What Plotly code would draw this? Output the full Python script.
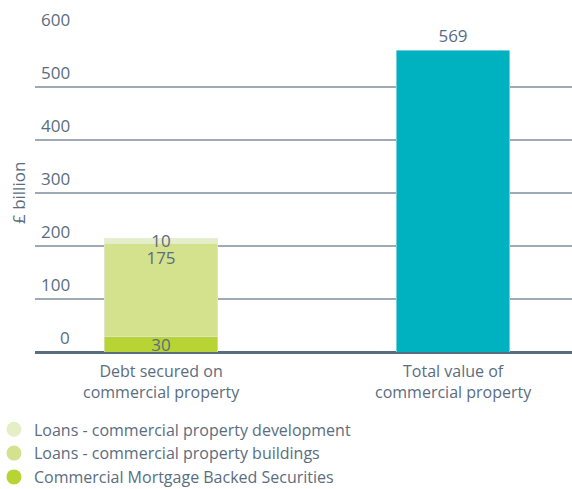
import plotly.graph_objects as go

categories = ["Debt secured on<br>commercial property", "Total value of<br>commercial property"]
cmbs = [30, None]
loans_buildings = [175, None]
loans_development = [10, None]
total_value = [None, 569]
series_names = ["Commercial Mortgage Backed Securities",
                "Loans - commercial property buildings",
                "Loans - commercial property development"]
y_ticks = [0, 100, 200, 300, 400, 500, 600]
y_tick_labels = ["0", "100", "200", "300", "400", "500", "600"]

TEXT = "#5a6d80"
FONT = "Open Sans"
C_CMBS = "#b7d334"
C_BLD = "#d4e18d"
C_DEV = "#e6eec6"
C_TOTAL = "#00b1c0"

x = [0, 1]
fig = go.Figure()

def lbl(vals):
    return [str(v) if v is not None else "" for v in vals]

common = dict(x=x, width=0.39, showlegend=False, textangle=0, cliponaxis=False)
fig.add_bar(y=cmbs, marker_color=C_CMBS, text=lbl(cmbs),
            textposition="inside", insidetextanchor="middle",
            textfont=dict(color=TEXT, size=17, family=FONT), **common)
fig.add_bar(y=loans_buildings, marker_color=C_BLD, text=lbl(loans_buildings),
            textposition="inside", insidetextanchor="end",
            textfont=dict(color=TEXT, size=17, family=FONT), **common)
fig.add_bar(y=loans_development, marker_color=C_DEV, text=lbl(loans_development),
            textposition="inside", insidetextanchor="middle",
            textfont=dict(color=TEXT, size=17, family=FONT), **common)
fig.add_bar(y=total_value, marker_color=C_TOTAL, text=lbl(total_value),
            textposition="outside",
            textfont=dict(color=TEXT, size=20, family=FONT), **common)

# legend entries with circle markers (top to bottom)
for name, col in [(series_names[2], C_DEV), (series_names[1], C_BLD), (series_names[0], C_CMBS)]:
    fig.add_scatter(x=[None], y=[None], mode="markers", name=name,
                    marker=dict(color=col, size=15, symbol="circle"))

# y tick labels sitting above the gridlines
for v, t in zip(y_ticks, y_tick_labels):
    fig.add_annotation(x=0.0689, y=v, xref="paper", yref="y", text=t, showarrow=False,
                       xanchor="right", yanchor="bottom", yshift=1,
                       font=dict(color=TEXT, size=17, family=FONT))

# category labels
for xi, cat in zip(x, categories):
    fig.add_annotation(x=xi, y=0, xref="x", yref="paper", text=cat, showarrow=False,
                       xanchor="center", yanchor="middle", yshift=-29,
                       font=dict(color=TEXT, size=16, family=FONT))

fig.add_annotation(x=-17/537, y=0.5, xref="paper", yref="paper", text="£ billion",
                   textangle=-90, showarrow=False, xanchor="center", yanchor="middle",
                   font=dict(color=TEXT, size=17, family=FONT))

fig.update_layout(
    width=572, height=489,
    margin=dict(l=35, r=0, t=34, b=137, autoexpand=False),
    barmode="stack",
    plot_bgcolor="white", paper_bgcolor="white",
    font=dict(family=FONT, color=TEXT),
    uniformtext=dict(mode="show", minsize=17),
    xaxis=dict(range=[-0.4315, 1.4075], tickvals=x, showticklabels=False,
               showgrid=False, zeroline=False, ticks="", showline=False),
    yaxis=dict(range=[0, 600], tickvals=y_ticks, showticklabels=False,
               showgrid=True, gridcolor="#9eabb6", gridwidth=1.5,
               zeroline=True, zerolinecolor="#5a6d80", zerolinewidth=2.5, ticks=""),
    legend=dict(x=-0.0764, xanchor="left", y=-0.19, yanchor="top", traceorder="normal",
                font=dict(size=16, color=TEXT, family=FONT), bgcolor="rgba(0,0,0,0)",
                tracegroupgap=0),
    showlegend=True,
)

fig.write_html("out.html", config={"displayModeBar": False},
               post_script="document.body.style.margin='0';document.body.style.overflow='hidden';")
